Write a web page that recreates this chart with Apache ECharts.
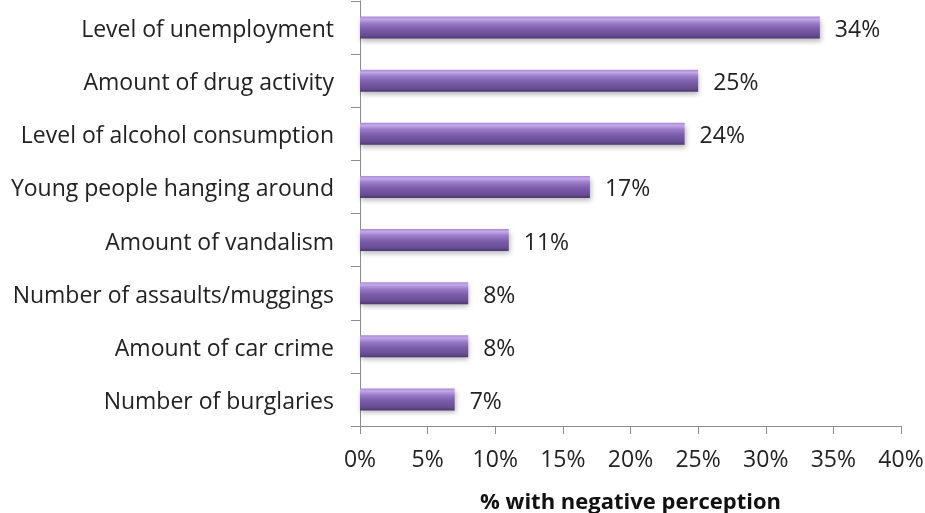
<!DOCTYPE html>
<html>
<head>
<meta charset="utf-8">
<script src="https://cdn.jsdelivr.net/npm/echarts@6/dist/echarts.min.js"></script>
<style>
  html, body { margin: 0; padding: 0; background: #ffffff; }
  #chart { width: 925px; height: 513px; }
</style>
</head>
<body>
<div id="chart"></div>
<script>
// Perceived neighbourhood problems, top to bottom
const categories = [
  'Level of unemployment',
  'Amount of drug activity',
  'Level of alcohol consumption',
  'Young people hanging around',
  'Amount of vandalism',
  'Number of assaults/muggings',
  'Amount of car crime',
  'Number of burglaries'
];
const percentages = [34, 25, 24, 17, 11, 8, 8, 7];
const axisTitle = '% with negative perception';

const FONT = '"Open Sans", Lato, sans-serif';

// cylinder-like shading for the bars
const barFill = new echarts.graphic.LinearGradient(0, 0, 0, 1, [
  { offset: 0.00, color: '#a68ad0' },
  { offset: 0.12, color: '#c3a8ec' },
  { offset: 0.30, color: '#9a7cc8' },
  { offset: 0.55, color: '#7b5dab' },
  { offset: 0.85, color: '#674d93' },
  { offset: 1.00, color: '#4c396e' }
]);

const chart = echarts.init(document.getElementById('chart'));
chart.setOption({
  animation: false,
  backgroundColor: '#ffffff',
  grid: {
    left: 360, right: 24, top: 1, bottom: 87,
    containLabel: false,
    outerBoundsMode: 'none'
  },
  xAxis: {
    type: 'value',
    min: 0,
    max: 40,
    interval: 5,
    name: axisTitle,
    nameLocation: 'middle',
    nameGap: 66,
    nameTextStyle: { fontFamily: FONT, fontSize: 22, fontWeight: 'bold', color: '#111' },
    axisLine: { show: true, lineStyle: { color: '#8c8c8c', width: 1 } },
    axisTick: { show: true, inside: false, length: 8, lineStyle: { color: '#8c8c8c' } },
    axisLabel: { formatter: '{value}%', fontFamily: FONT, fontSize: 23, color: '#222', margin: 23 },
    splitLine: { show: false }
  },
  yAxis: {
    type: 'category',
    inverse: true,
    data: categories,
    axisLine: { show: true, lineStyle: { color: '#8c8c8c', width: 1 } },
    axisTick: { show: true, length: 9, lineStyle: { color: '#8c8c8c' } },
    axisLabel: {
      margin: 26,
      formatter: '{cat|{value}}',
      rich: {
        cat: { fontFamily: FONT, fontSize: 23, color: '#222', padding: [6, 0, 0, 0] }
      }
    }
  },
  series: [{
    type: 'bar',
    data: percentages,
    barWidth: 22,
    itemStyle: {
      color: barFill,
      shadowColor: 'rgba(0,0,0,0.28)',
      shadowBlur: 5,
      shadowOffsetX: 1,
      shadowOffsetY: 3
    },
    label: {
      show: true,
      position: 'right',
      distance: 15,
      offset: [0, 3],
      formatter: '{c}%',
      fontFamily: FONT,
      fontSize: 23,
      color: '#222'
    }
  }]
});
</script>
</body>
</html>
